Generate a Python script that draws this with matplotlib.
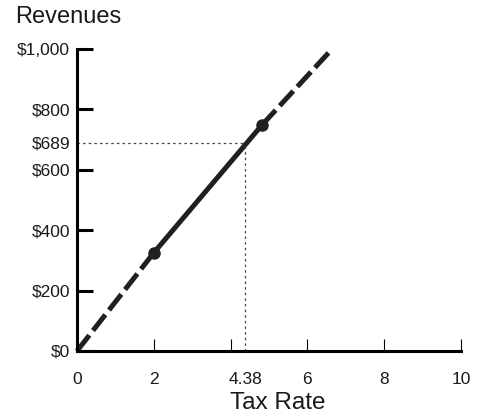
import numpy as np
import matplotlib.pyplot as plt

plt.rcParams['font.family'] = ['Liberation Sans', 'DejaVu Sans']

# data
line_x = [0, 2.0, 4.82, 6.65]
line_y = [0, 325, 748, 1000]
point_x = [2.0, 4.82]
point_y = [325, 748]
mark_x = 4.38
mark_y = 689
xticks = [0, 2, 4, 6, 8, 10]
xticklabels = ['0', '2', '', '6', '8', '10']
yticks = [0, 200, 400, 600, 689, 800, 1000]
yticklabels = ['$0', '$200', '$400', '$600', '$689', '$800', '$1,000']

ink = '#231f20'
txt = '#1a1a1a'

fig = plt.figure(figsize=(4.97, 4.18), dpi=100)
ax = fig.add_axes([77 / 497, 1 - 351 / 418, (461 - 77) / 497, (351 - 48.7) / 418])

# dashed outer parts, solid middle
ax.plot(line_x[:2], line_y[:2], color=ink, lw=3.6, dashes=(4, 1.2),
        clip_on=False)
ax.plot(line_x[1:3], line_y[1:3], color=ink, lw=3.6, clip_on=False)
ax.plot(line_x[2:], line_y[2:], color=ink, lw=3.6, dashes=(4, 1.2),
        clip_on=False)
ax.plot(point_x, point_y, 'o', color=ink, ms=8, clip_on=False)

# guide lines for 4.38 / $689
ax.plot([0, mark_x], [mark_y, mark_y], color='#444444', lw=0.9,
        linestyle=(0, (2, 2.5)))
ax.plot([mark_x, mark_x], [0, mark_y], color='#444444', lw=0.9,
        linestyle=(0, (2, 2.5)))

ax.set_xlim(0, 10)
ax.set_ylim(0, 1000)

for s in ['top', 'right']:
    ax.spines[s].set_visible(False)
for s in ['left', 'bottom']:
    ax.spines[s].set_linewidth(2.2)
    ax.spines[s].set_color('black')

ax.set_xticks(xticks)
ax.set_xticklabels(xticklabels)
ax.set_yticks(yticks)
ax.set_yticklabels(yticklabels)
ax.tick_params(axis='x', direction='in', length=8.6, width=0.8, pad=15,
               labelsize=12.5, colors='black', labelcolor=txt)
ax.tick_params(axis='y', direction='in', length=11.5, width=2.2, pad=5,
               labelsize=12.5, colors='black', labelcolor=txt)
# no tick mark for the $689 label
ax.yaxis.get_major_ticks()[4].tick1line.set_visible(False)
ax.xaxis.get_major_ticks()[0].tick1line.set_visible(False)

ax.annotate('4.38', xy=(mark_x, 0), xycoords=('data', 'axes fraction'),
            xytext=(0, -15), textcoords='offset points',
            ha='center', va='top', fontsize=12.5, color=txt)

ax.set_xlabel('Tax Rate', fontsize=17.5, color=txt, labelpad=6)
ax.xaxis.set_label_coords(0.523, -0.135)
fig.text(15 / 497, 1 - 17 / 418, 'Revenues', fontsize=17, color=txt,
         ha='left', va='center')

fig.savefig('out.png', dpi=100)
